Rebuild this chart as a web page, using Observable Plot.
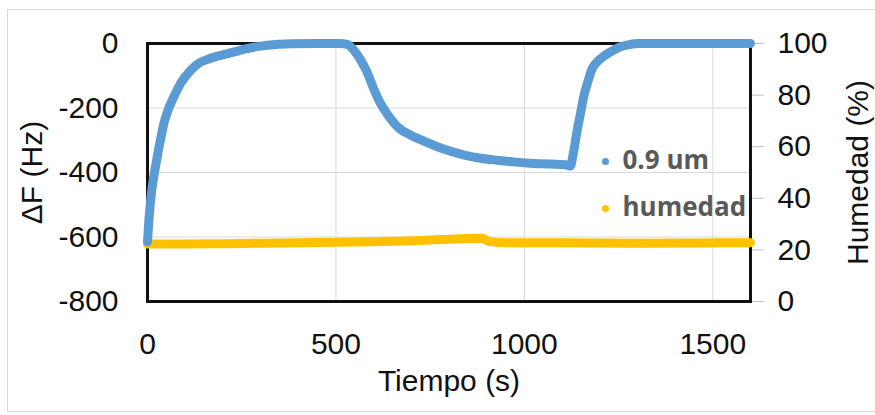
<!DOCTYPE html>
<html>
<head>
<meta charset="utf-8">
<script src="https://cdn.jsdelivr.net/npm/d3@7"></script>
<script src="https://cdn.jsdelivr.net/npm/@observablehq/plot@0.6"></script>
<style>
  html, body { margin: 0; padding: 0; background: #fff; }
  #wrap { position: relative; width: 875px; height: 415px; overflow: hidden; }
  #border { position: absolute; left: 7px; top: 9px; width: 880px; height: 403px; border: 1px solid #d9d9d9; box-sizing: border-box; }
  #chart { position: absolute; left: 0; top: 0; }
</style>
</head>
<body>
<div id="wrap">
  <div id="border"></div>
  <div id="chart"></div>
</div>
<script>
// Frequency shift of the 0.9 um sample (Hz) over time (s)
const timeF = [0, 3, 8, 13, 20, 26, 35, 43, 55, 70, 90, 114, 135, 158, 190, 228, 260, 300, 340, 380, 450, 510,
  530, 547, 565, 583, 600, 618, 640, 663, 700, 732, 780, 838, 880, 928, 970, 1016, 1070, 1114, 1122,
  1130, 1140, 1150, 1157, 1168, 1180, 1195, 1210, 1230, 1255, 1280, 1300, 1400, 1500, 1600];
const deltaF = [-615, -560, -490, -440, -390, -350, -295, -250, -205, -165, -120, -84, -62, -50, -38, -27, -17, -8, -3, -1, 0, 0,
  -3, -20, -50, -90, -140, -185, -225, -258, -285, -302, -325, -345, -355, -362, -367, -371, -374, -377, -380,
  -340, -270, -210, -167, -120, -78, -55, -40, -25, -10, -3, 0, 0, 0, 0];

// Relative humidity (%) over time (s)
const timeH = [0, 100, 200, 300, 400, 500, 600, 700, 780, 850, 890, 905, 950, 1100, 1300, 1450, 1600];
const humidity = [22.3, 22.3, 22.4, 22.6, 22.8, 23.0, 23.2, 23.5, 24.0, 24.4, 24.5, 23.3, 22.8, 22.8, 22.6, 22.7, 22.8];

// Axis ticks
const xTicks = [0, 500, 1000, 1500];
const yTicks = [-800, -600, -400, -200, 0];
const hTicks = [0, 20, 40, 60, 80, 100];

const blue = "#5b9bd5";
const gold = "#ffc000";
const legend = [
  {label: "0.9 um", color: blue},
  {label: "humedad", color: gold}
];

// Humidity shares the left scale: 0–100 % spans -800–0 Hz
const hToF = h => -800 + h * 8;
const fToH = f => (f + 800) / 8;

const freqData = timeF.map((t, i) => ({t, v: deltaF[i]}));
const humData = timeH.map((t, i) => ({t, v: hToF(humidity[i])}));

const font = "'Liberation Sans', Arial, sans-serif";

// One dot + label per legend entry, stacked inside the plot area
const legendMarks = legend.flatMap((d, i) => [
  Plot.dot([d], {frameAnchor: "top-left", dx: 458, dy: 118 + i * 47, r: 3.5, fill: d.color, stroke: null}),
  Plot.text([d], {frameAnchor: "top-left", dx: 475, dy: 117 + i * 47, text: "label", textAnchor: "start", lineAnchor: "middle",
    fontFamily: "'Open Sans', sans-serif", fontWeight: "bold", fontSize: 26, fill: "#595959"})
]);

const chart = Plot.plot({
  width: 875,
  height: 415,
  marginLeft: 147,
  marginRight: 125,
  marginTop: 43,
  marginBottom: 114,
  style: {fontFamily: font, fontSize: "30px", color: "#111", background: "transparent", overflow: "visible"},
  x: {domain: [0, 1600]},
  y: {domain: [-800, 0]},
  marks: [
    Plot.gridX(xTicks.slice(1), {stroke: "#d9d9d9", strokeOpacity: 1, strokeWidth: 1}),
    Plot.gridY([-600, -400, -200], {stroke: "#d9d9d9", strokeOpacity: 1, strokeWidth: 1}),
    Plot.axisX({ticks: xTicks, tickSize: 0, tickPadding: 31, tickFormat: d => String(d), label: null, fontSize: 30}),
    Plot.axisY({anchor: "left", ticks: yTicks, tickSize: 0, tickPadding: 29, tickFormat: d => String(d), label: null, fontSize: 30}),
    Plot.axisY({anchor: "right", ticks: hTicks.map(hToF), tickSize: 13, tickPadding: 14, stroke: "#bfbfbf",
      tickFormat: d => String(Math.round(fToH(d))), label: null, fontSize: 30}),
    Plot.frame({stroke: "#111", strokeWidth: 3}),
    Plot.line(humData, {x: "t", y: "v", stroke: gold, strokeWidth: 9, curve: "monotone-x", strokeLinecap: "round", strokeLinejoin: "round"}),
    Plot.line(freqData, {x: "t", y: "v", stroke: blue, strokeWidth: 9, curve: "monotone-x", strokeLinecap: "round", strokeLinejoin: "round"}),
    // Axis titles
    Plot.text(["Tiempo (s)"], {frameAnchor: "bottom", dy: 89, fontSize: 30, fill: "#111"}),
    Plot.text(["ΔF (Hz)"], {frameAnchor: "left", dx: -115, rotate: -90, textAnchor: "middle", lineAnchor: "middle", fontSize: 30, fill: "#111"}),
    Plot.text(["Humedad (%)"], {frameAnchor: "right", dx: 108, rotate: -90, textAnchor: "middle", lineAnchor: "middle", fontSize: 30, fill: "#111"}),
    ...legendMarks
  ]
});

document.getElementById("chart").appendChild(chart);
</script>
</body>
</html>
